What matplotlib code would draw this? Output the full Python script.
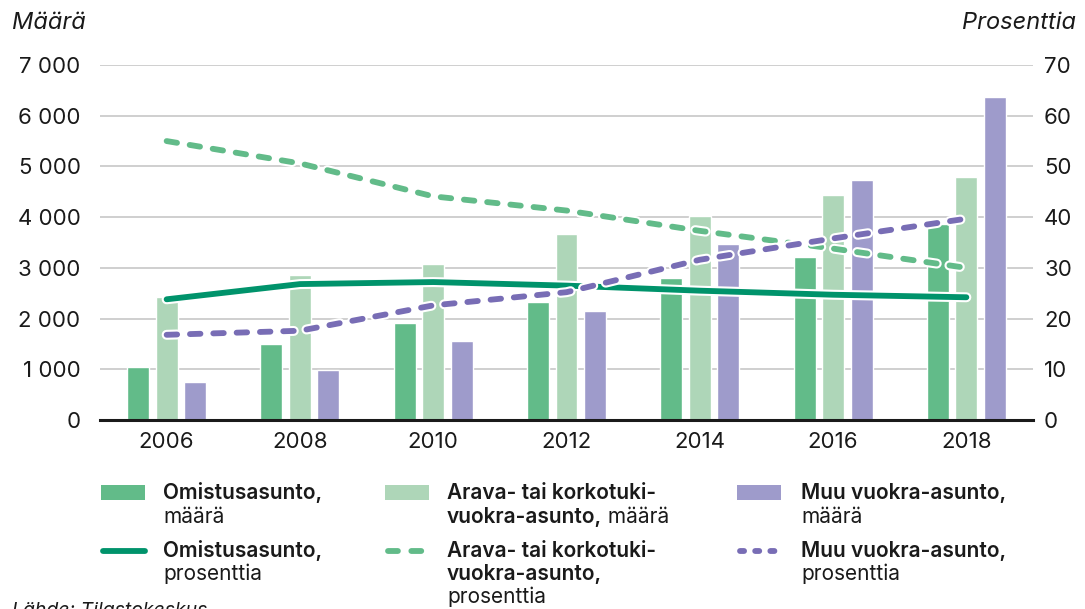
import matplotlib
matplotlib.use("Agg")
import matplotlib.pyplot as plt
import matplotlib.patheffects as pe
from matplotlib.patches import Rectangle
from matplotlib.lines import Line2D
import numpy as np

# Data
years = ["2006", "2008", "2010", "2012", "2014", "2016", "2018"]

# Counts (left axis)
omistus_maara = [1050, 1500, 1910, 2330, 2800, 3210, 3870]
arava_maara = [2420, 2860, 3070, 3660, 4020, 4440, 4790]
muu_maara = [750, 990, 1550, 2150, 3470, 4730, 6370]

# Shares in percent (right axis)
omistus_pros = [23.8, 26.8, 27.2, 26.5, 25.5, 24.7, 24.2]
arava_pros = [55.0, 50.6, 44.1, 41.3, 37.3, 33.8, 30.0]
muu_pros = [16.8, 17.6, 22.6, 25.2, 31.6, 35.8, 39.7]

# Colours
C_OMISTUS = "#62bb89"
C_ARAVA = "#aed6b8"
C_MUU = "#9e9bcb"
C_OMISTUS_LINE = "#00936b"
C_ARAVA_LINE = "#62bb89"
C_MUU_LINE = "#786db5"
C_TEXT = "#1a1a1a"

plt.rcParams["font.family"] = ["Inter", "DejaVu Sans"]

W, H = 1085, 609
fig = plt.figure(figsize=(W / 100, H / 100), dpi=100)
ax = fig.add_axes([100 / W, 1 - 420 / H, 933 / W, 355 / H])
ax2 = ax.twinx()

x = np.arange(len(years))
bw = 0.165
off = 0.214

ax.bar(x - off, omistus_maara, bw, color=C_OMISTUS, edgecolor="white", linewidth=1, zorder=2)
ax.bar(x, arava_maara, bw, color=C_ARAVA, edgecolor="white", linewidth=1, zorder=2)
ax.bar(x + off, muu_maara, bw, color=C_MUU, edgecolor="white", linewidth=1, zorder=2)

ax.set_xlim(-0.5, 6.5)
ax.set_ylim(0, 7000)
ax.set_yticks(range(0, 7001, 1000))
ax.set_yticklabels([f"{v:,}".replace(",", " ") for v in range(0, 7001, 1000)])
ax.set_xticks(x)
ax.set_xticklabels(years)
ax.grid(axis="y", color="#cccccc", linewidth=1.3, zorder=0)
ax.set_axisbelow(True)
for s in ax.spines.values():
    s.set_visible(False)
for s in ax2.spines.values():
    s.set_visible(False)
ax.axhline(0, color=C_TEXT, linewidth=2.2, zorder=5, clip_on=False)

ax.tick_params(axis="y", length=0, pad=14, labelsize=16, labelcolor=C_TEXT)
ax.tick_params(axis="x", length=0, pad=9, labelsize=16, labelcolor=C_TEXT)

# Percentage lines on the right axis
outline = lambda lw: [pe.Stroke(linewidth=lw + 3, foreground="white"), pe.Normal()]
ax2.plot(x, omistus_pros, color=C_OMISTUS_LINE, linewidth=4.2, solid_capstyle="round",
         path_effects=outline(4.2), zorder=3)
ax2.plot(x, arava_pros, color=C_ARAVA_LINE, linewidth=4.2, dashes=(1.8, 2.2),
         dash_capstyle="round", path_effects=outline(4.2), zorder=4)
ax2.plot(x, muu_pros, color=C_MUU_LINE, linewidth=4.2, dashes=(1.8, 2.2),
         dash_capstyle="round", path_effects=outline(4.2), zorder=5)

ax2.set_ylim(0, 70)
ax2.set_yticks(range(0, 71, 10))
ax2.tick_params(axis="y", length=0, pad=8, labelsize=16, labelcolor=C_TEXT)

# Axis titles
fig.text(12 / W, 1 - 29 / H, "Määrä", fontsize=17, style="italic", color=C_TEXT,
         ha="left", va="baseline")
fig.text(1076 / W, 1 - 29 / H, "Prosenttia", fontsize=17, style="italic", color=C_TEXT,
         ha="right", va="baseline")


# Legend drawn by hand: series name in semibold, unit in regular weight
def fx(px):
    return px / W


def fy(py):
    return 1 - py / H


leg_fs = 15
renderer = fig.canvas.get_renderer()


def legend_text(tx, baselines, parts):
    # parts: list of lines, each line a list of (text, weight)
    for by, line in zip(baselines, parts):
        cur = fx(tx)
        for txt, weight in line:
            t = fig.text(cur, fy(by), txt, fontsize=leg_fs, color=C_TEXT,
                         fontweight=weight, ha="left", va="baseline")
            bb = t.get_window_extent(renderer=renderer)
            cur += bb.width / W


cols = [(101, 163), (385, 447), (737, 801)]
B, R = "semibold", "normal"
row1 = [(C_OMISTUS, [[("Omistusasunto,", B)], [("määrä", R)]]),
        (C_ARAVA, [[("Arava- tai korkotuki-", B)], [("vuokra-asunto,", B), (" määrä", R)]]),
        (C_MUU, [[("Muu vuokra-asunto,", B)], [("määrä", R)]])]
row2 = [("solid", C_OMISTUS_LINE, [[("Omistusasunto,", B)], [("prosenttia", R)]]),
        ("dash", C_ARAVA_LINE, [[("Arava- tai korkotuki-", B)], [("vuokra-asunto,", B)],
                                [("prosenttia", R)]]),
        ("dot", C_MUU_LINE, [[("Muu vuokra-asunto,", B)], [("prosenttia", R)]])]

for (hx, tx), (col, parts) in zip(cols, row1):
    fig.add_artist(Rectangle((fx(hx), fy(500)), fx(44), 15 / H, facecolor=col,
                             edgecolor="none", transform=fig.transFigure))
    legend_text(tx, [499, 523], parts)

for (hx, tx), (kind, col, parts) in zip(cols, row2):
    yy = fy(551)
    if kind == "solid":
        ln = Line2D([fx(hx + 2), fx(hx + 44)], [yy, yy], color=col, linewidth=4.2,
                    solid_capstyle="round", transform=fig.transFigure)
    elif kind == "dash":
        ln = Line2D([fx(hx + 3), fx(hx + 42)], [yy, yy], color=col, linewidth=4.2,
                    dashes=(1.7, 2.3), dash_capstyle="round", transform=fig.transFigure)
    else:
        ln = Line2D([fx(hx + 3), fx(hx + 46)], [yy, yy], color=col, linewidth=4.2,
                    dashes=(0.7, 1.9), dash_capstyle="round", transform=fig.transFigure)
    fig.add_artist(ln)
    legend_text(tx, [557, 580, 603], parts)

fig.text(12 / W, fy(602), "Lähde: Tilastokeskus", fontsize=14, style="italic",
         color=C_TEXT, ha="left", va="top")

fig.savefig("out.png", dpi=100)
